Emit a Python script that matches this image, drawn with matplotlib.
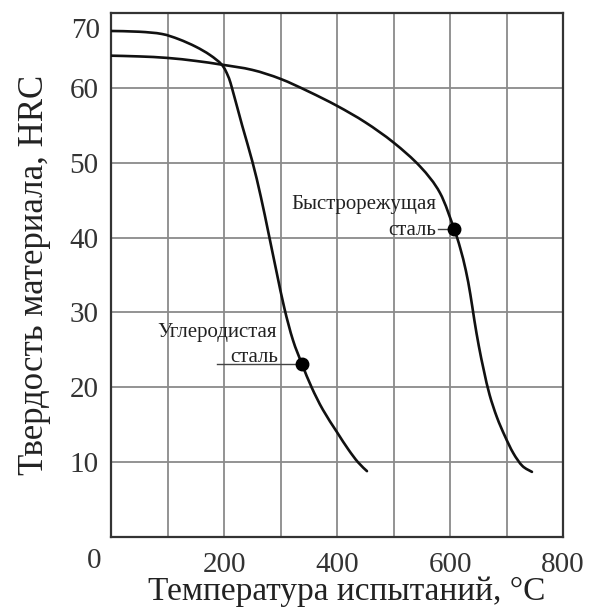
import matplotlib
matplotlib.use("Agg")
import matplotlib.pyplot as plt
from matplotlib.path import Path
from matplotlib.patches import PathPatch

# Углеродистая сталь: температура, °C -> твердость, HRC
carbon_t = [0, 50, 90, 120, 150, 175, 196, 207, 214, 232, 250, 265, 279,
            293, 307, 322, 338, 355, 375, 400, 420, 437, 453]
carbon_hrc = [67.6, 67.5, 67.2, 66.5, 65.5, 64.4, 63.1, 61.6, 60.0, 55.0,
              50.2, 45.5, 40.5, 35.4, 30.5, 26.3, 23.1, 20.0, 17.0, 14.0,
              11.7, 10.0, 8.8]

# Быстрорежущая сталь
hss_t = [0, 50, 100, 150, 196, 250, 300, 350, 400, 450, 500, 547, 582, 607,
         618, 628, 636, 643, 651, 660, 670, 683, 697, 712, 728, 745]
hss_hrc = [64.3, 64.2, 64.0, 63.6, 63.1, 62.4, 61.2, 59.5, 57.6, 55.4, 52.7,
           49.5, 46.0, 41.2, 38.6, 35.6, 32.4, 29.0, 25.5, 22.2, 19.0, 16.0,
           13.5, 11.2, 9.5, 8.7]

# отмеченные точки
carbon_dot = (338, 23.1)
hss_dot = (607, 41.2)

x_ticks = [200, 400, 600, 800]
y_ticks = [10, 20, 30, 40, 50, 60]


def smooth_path(xs, ys):
    """Кривая Безье (Catmull-Rom), проходящая через все точки."""
    pts = list(zip(xs, ys))
    verts = [pts[0]]
    codes = [Path.MOVETO]
    n = len(pts)
    for i in range(n - 1):
        p0 = pts[i - 1] if i > 0 else pts[i]
        p1 = pts[i]
        p2 = pts[i + 1]
        p3 = pts[i + 2] if i + 2 < n else pts[i + 1]
        c1 = (p1[0] + (p2[0] - p0[0]) / 6.0, p1[1] + (p2[1] - p0[1]) / 6.0)
        c2 = (p2[0] - (p3[0] - p1[0]) / 6.0, p2[1] - (p3[1] - p1[1]) / 6.0)
        verts += [c1, c2, p2]
        codes += [Path.CURVE4] * 3
    return Path(verts, codes)


plt.rcParams['font.family'] = ['Liberation Serif', 'DejaVu Serif']

fig = plt.figure(figsize=(5.89, 6.14), dpi=100)
ax = fig.add_axes([0.1885, 0.1254, 0.7674, 0.8534])

ax.set_xlim(0, 800)
ax.set_ylim(0, 70)

# сетка
for t in range(100, 800, 100):
    ax.axvline(t, color='#8a8a8a', lw=1.3, zorder=1)
for h in range(10, 70, 10):
    ax.axhline(h, color='#8a8a8a', lw=1.3, zorder=1)

for xs, ys in [(carbon_t, carbon_hrc), (hss_t, hss_hrc)]:
    ax.add_patch(PathPatch(smooth_path(xs, ys), fill=False, edgecolor='#111111',
                           lw=1.9, zorder=3, capstyle='round'))

ax.plot(*carbon_dot, 'o', color='black', ms=9, zorder=4)
ax.plot(*hss_dot, 'o', color='black', ms=9, zorder=4)

# подписи кривых
ax.text(293, 27.3, 'Углеродистая', fontsize=15, ha='right', va='center',
        color='#222222', zorder=2)
ax.text(296, 24.0, 'сталь', fontsize=15, ha='right', va='center',
        color='#222222', zorder=2)
ax.plot([187, carbon_dot[0]], [carbon_dot[1], carbon_dot[1]], color='#444444',
        lw=1.0, zorder=2)

ax.text(576, 44.4, 'Быстрорежущая', fontsize=15, ha='right', va='center',
        color='#222222', zorder=2)
ax.text(576, 41.0, 'сталь', fontsize=15, ha='right', va='center',
        color='#222222', zorder=2)
ax.plot([578, hss_dot[0]], [hss_dot[1], hss_dot[1]], color='#444444',
        lw=1.0, zorder=2)

# оси
for s in ax.spines.values():
    s.set_linewidth(1.6)
    s.set_color('#333333')

ax.set_xticks(x_ticks)
ax.set_xticklabels([str(v) for v in x_ticks])
ax.set_yticks(y_ticks)
ax.set_yticklabels([str(v) for v in y_ticks])
ax.tick_params(length=0, labelsize=21, colors='#333333')
ax.tick_params(axis='x', pad=11)
ax.tick_params(axis='y', pad=9)

ax.text(-0.025, 67.6, '70', fontsize=21, ha='right', va='center',
        color='#333333', transform=ax.get_yaxis_transform())
ax.text(-0.022, -0.045, '0', fontsize=21, ha='right', va='center',
        color='#333333', transform=ax.transAxes)

ax.set_xlabel('Температура испытаний, °C', fontsize=24, color='#222222',
              labelpad=-1)
ax.xaxis.label.set_x(0.522)
ax.set_ylabel('Твердость материала, HRC', fontsize=25, color='#222222',
              labelpad=13)

fig.savefig('out.png', dpi=100)
